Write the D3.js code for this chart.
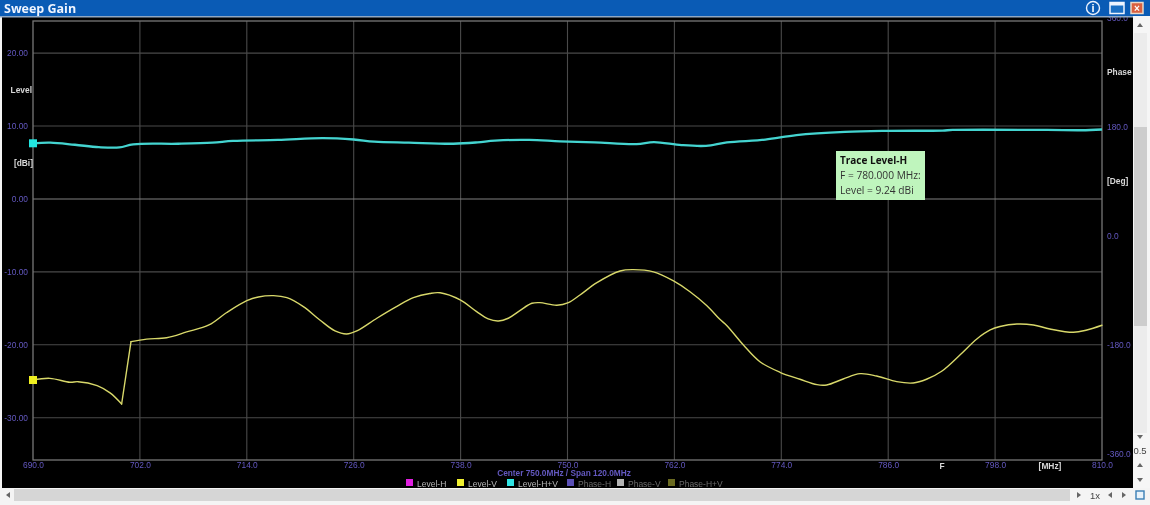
<!DOCTYPE html>
<html><head><meta charset="utf-8">
<script src="https://d3js.org/d3.v7.min.js"></script>
<style>
html,body{margin:0;padding:0;background:#f4f4f4;overflow:hidden}
svg{display:block;filter:blur(0.45px)}
text{font-family:"Liberation Sans",Arial,sans-serif}
</style></head><body><svg id="c" width="1150" height="505"></svg>
<script>
const freqTicks=[690,702,714,726,738,750,762,774,786,798,810];
const levelTicks=[20,10,0,-10,-20,-30];
const phaseTicks=[360,180,0,-180,-360];
const legendNames=["Level-H","Level-V","Level-H+V","Phase-H","Phase-V","Phase-H+V"];
const legendColors=["#e020e0","#f0f030","#30e4e4","#5a4fb5","#b4b4b4","#6a6a20"];
const legendText=["#b8b8b8","#b8b8b8","#b8b8b8","#6a6a6a","#6a6a6a","#6a6a6a"];
const levelHVFreq=[690,691.95,694.7,697.4,699.7,701.25,706.3,710.15,712.45,717.5,722.5,726,728.3,732.2,737.2,739.9,741.85,745.7,749.15,753.05,757.75,759.7,762.8,765.55,767.9,772.2,775.7,781.15,785.85,792.1,793.25,803.8,807.7,810];
const levelHV=[7.63,7.72,7.43,7.1,7.06,7.49,7.57,7.72,7.96,8.09,8.33,8.15,7.86,7.72,7.57,7.76,8.0,8.09,7.9,7.75,7.52,7.8,7.38,7.28,7.75,8.13,8.75,9.19,9.33,9.38,9.46,9.46,9.42,9.52];
const levelVFreq=[690,691.9,694.15,695.05,697.2,698.65,699.95,701,702.75,705,707.25,709.75,711.75,714,715.3,717,718.5,720.35,722.2,723.9,725.2,726.35,728.6,730.8,732.7,734.55,735.7,737.95,739.8,741.1,742.25,743.35,744.65,746,746.9,748.8,750.1,751.4,753.3,755.9,757.4,759.65,761.9,763.75,765.65,767.1,767.9,769.75,771.6,773.85,776.1,778,779.1,780.95,782.85,784.7,786.95,788.8,790.3,792,794.05,795.95,797.45,798.55,800.45,802.3,804.15,806.8,808.3,810];
const levelV=[-24.83,-24.6,-25.14,-25.06,-25.6,-26.6,-28.12,-19.57,-19.23,-19.03,-18.24,-17.28,-15.57,-13.95,-13.44,-13.26,-13.54,-14.77,-16.6,-18.1,-18.52,-18.1,-16.36,-14.77,-13.54,-12.96,-12.87,-13.85,-15.46,-16.46,-16.73,-16.36,-15.32,-14.31,-14.22,-14.58,-14.22,-13.17,-11.48,-9.88,-9.7,-10.01,-11.25,-12.72,-14.64,-16.5,-17.38,-20.03,-22.32,-23.77,-24.73,-25.47,-25.51,-24.69,-23.96,-24.28,-25.06,-25.24,-24.73,-23.63,-21.4,-19.2,-17.97,-17.49,-17.15,-17.28,-17.83,-18.29,-17.97,-17.32];

const svg=d3.select("#c");
const L=33,R=1102,T=21,B=460;
const x=d3.scaleLinear().domain([690,810]).range([L,R]);
const y=d3.scaleLinear().domain([-35.8,24.4]).range([B,T]);
const p=d3.scaleLinear().domain([-360,360]).range([454,17.5]);
const fmt=n=>f=>d3.format(`.${n}f`)(f).replace("\u2212","-");

svg.append("rect").attr("width",1150).attr("height",505).attr("fill","#f4f4f4");
svg.append("rect").attr("x",2).attr("y",16).attr("width",1131).attr("height",472).attr("fill","#000");

// grid
const gridC="#4a4a4a";
svg.append("g").selectAll("line").data(freqTicks.slice(1,-1)).join("line")
 .attr("x1",d=>x(d)).attr("x2",d=>x(d)).attr("y1",T).attr("y2",B).attr("stroke",gridC).attr("stroke-width",1.1);
svg.append("g").selectAll("line").data(levelTicks).join("line")
 .attr("x1",L).attr("x2",R).attr("y1",d=>y(d)).attr("y2",d=>y(d)).attr("stroke",d=>d===0?"#808080":gridC).attr("stroke-width",1.1);
svg.append("rect").attr("x",L).attr("y",T).attr("width",R-L).attr("height",B-T).attr("fill","none").attr("stroke","#777").attr("stroke-width",1.3);

// axes
const axC="#6358c0";
function style(g){g.select(".domain").remove();g.selectAll(".tick line").remove();
 g.selectAll("text").attr("fill",axC).attr("font-size",8.4).attr("font-family","'Liberation Sans',Arial,sans-serif");}
svg.append("g").attr("transform",`translate(${L-5},0)`).call(d3.axisLeft(y).tickValues(levelTicks).tickSize(0).tickPadding(0).tickFormat(fmt(2))).call(style);
svg.append("g").attr("transform",`translate(${R+5},0)`).call(d3.axisRight(p).tickValues(phaseTicks).tickSize(0).tickPadding(0).tickFormat(fmt(1))).call(style);
svg.append("g").attr("transform",`translate(0,${B+1})`).call(d3.axisBottom(x).tickValues(freqTicks).tickSize(0).tickPadding(1).tickFormat(fmt(1))).call(style);

// traces: the Level-V trace has a sharp step after its seventh point
const line=d3.line().x(d=>x(d[0])).y(d=>y(d[1])).curve(d3.curveCatmullRom.alpha(0.5));
const straight=d3.line().x(d=>x(d[0])).y(d=>y(d[1]));
const vPts=d3.zip(levelVFreq,levelV);
[[vPts.slice(0,7),line],[vPts.slice(6,8),straight],[vPts.slice(7),line]].forEach(([pts,gen])=>{
 svg.append("path").datum(pts).attr("d",gen).attr("fill","none").attr("stroke","#d8d86a").attr("stroke-width",1.4).attr("stroke-linecap","round");
});
svg.append("path").datum(d3.zip(levelHVFreq,levelHV)).attr("d",line).attr("fill","none").attr("stroke","#44d4d0").attr("stroke-width",2.3);
svg.append("rect").attr("x",x(690)-4).attr("y",y(levelHV[0])-4).attr("width",8).attr("height",8).attr("fill","#22e6e0");
svg.append("rect").attr("x",x(690)-4).attr("y",y(levelV[0])-4).attr("width",8).attr("height",8).attr("fill","#f0f020");

// axis captions
function cap(t,xx,yy,a,c,s,w){return svg.append("text").attr("x",xx).attr("y",yy).attr("text-anchor",a||"start").attr("fill",c||"#d8d8d8").attr("font-size",s||8.4).attr("font-weight",w||"bold").text(t);}
cap("Level",32,93,"end");
cap("[dBi]",33,166,"end");
cap("Phase",1107,75);
cap("[Deg]",1107,184);
cap("F",942,469,"middle");
cap("[MHz]",1050,469,"middle");
cap("Center 750.0MHz / Span 120.0MHz",564,476,"middle",axC,8.3);

// legend
const legendX=[406,457,507,567,617,668];
const lg=svg.append("g").selectAll("g").data(legendNames).join("g").attr("transform",(d,i)=>`translate(${legendX[i]},479)`);
lg.append("rect").attr("width",7).attr("height",7).attr("fill",(d,i)=>legendColors[i]);
lg.append("text").attr("x",11).attr("y",7.5).attr("font-size",8.5).attr("fill",(d,i)=>legendText[i]).text(d=>d);

// tooltip
svg.append("rect").attr("x",836).attr("y",151).attr("width",89).attr("height",49).attr("fill","#bff5bd");
const tf="'Open Sans',sans-serif";
cap("Trace Level-H",840,164,"start","#111",10,"bold").style("font-family",tf);
cap("F = 780.000 MHz:",840,179,"start","#333",10.2,"normal").style("font-family",tf);
cap("Level = 9.24 dBi",840,194,"start","#333",10.2,"normal").style("font-family",tf);

// title bar
svg.append("rect").attr("width",1150).attr("height",16).attr("fill","#0a5bb5");
svg.append("rect").attr("y",16).attr("width",1133).attr("height",1.5).attr("fill","#8fa8c4");
svg.append("text").attr("x",4).attr("y",12.5).attr("fill","#eef4ff").attr("font-size",12.5).attr("font-weight","bold").style("font-family",tf).text("Sweep Gain");
svg.append("circle").attr("cx",1093).attr("cy",8).attr("r",6.5).attr("fill","#0a5bb5").attr("stroke","#eaf2ff").attr("stroke-width",1.4);
svg.append("text").attr("x",1093).attr("y",12).attr("text-anchor","middle").attr("fill","#fff").attr("font-size",11).attr("font-weight","bold").text("i");
svg.append("rect").attr("x",1110).attr("y",2.5).attr("width",14).attr("height",11).attr("fill","#1b6fc4").attr("stroke","#eef4ff").attr("stroke-width",1.5);
svg.append("rect").attr("x",1110).attr("y",2.5).attr("width",14).attr("height",3).attr("fill","#eef4ff");
svg.append("rect").attr("x",1131).attr("y",2.5).attr("width",12).attr("height",11).attr("fill","#d9603f").attr("stroke","#e8d8c8").attr("stroke-width",1.5);
svg.append("text").attr("x",1137).attr("y",12).attr("text-anchor","middle").attr("fill","#fff").attr("font-size",10).attr("font-weight","bold").text("×");

// right scrollbar
svg.append("rect").attr("x",1133).attr("y",16).attr("width",17).attr("height",472).attr("fill","#f6f6f6");
svg.append("rect").attr("x",1134).attr("y",33).attr("width",13).attr("height",400).attr("fill","#ececec");
svg.append("rect").attr("x",1134).attr("y",127).attr("width",13).attr("height",199).attr("fill","#cdcdcd");
function tri(cx,cy,dir,c){const s=3;const d={u:`M${cx-s},${cy+2}L${cx+s},${cy+2}L${cx},${cy-2}Z`,d:`M${cx-s},${cy-2}L${cx+s},${cy-2}L${cx},${cy+2}Z`,l:`M${cx+2},${cy-s}L${cx+2},${cy+s}L${cx-2},${cy}Z`,r:`M${cx-2},${cy-s}L${cx-2},${cy+s}L${cx+2},${cy}Z`}[dir];svg.append("path").attr("d",d).attr("fill",c||"#666");}
tri(1140,25,"u");tri(1140,437,"d");tri(1140,465,"u");tri(1140,480,"d");
svg.append("text").attr("x",1140).attr("y",454).attr("text-anchor","middle").attr("font-size",9.5).attr("fill","#444").text("0.5");

// bottom scrollbar
svg.append("rect").attr("y",488).attr("width",1150).attr("height",17).attr("fill","#f4f4f4");
svg.append("rect").attr("x",14).attr("y",489).attr("width",1056).attr("height",12).attr("fill","#d6d6d6");
tri(8,495,"l");tri(1079,495,"r");tri(1110,495,"l");tri(1124,495,"r");
svg.append("text").attr("x",1095).attr("y",499).attr("text-anchor","middle").attr("font-size",9.5).attr("fill","#444").text("1x");
svg.append("rect").attr("x",1136).attr("y",491).attr("width",8).attr("height",8).attr("fill","#e8f2fa").attr("stroke","#3a7fb5").attr("stroke-width",1.4);
</script></body></html>
